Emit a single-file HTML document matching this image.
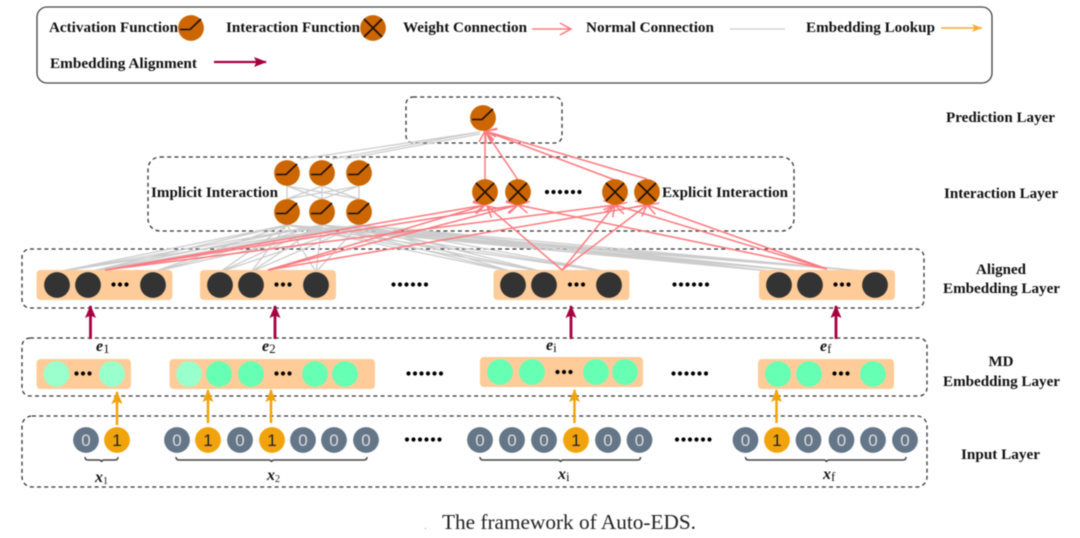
<!DOCTYPE html>
<html lang="en">
<head>
<meta charset="utf-8">
<title>The framework of Auto-EDS</title>
<style>
html,body{margin:0;padding:0;background:#fff;width:1080px;height:538px;overflow:hidden}
svg{display:block;filter:blur(.45px)}
text{font-family:"Liberation Serif",serif;font-weight:bold;font-size:15px;fill:#111}
.n{font-family:"Liberation Sans",sans-serif;font-weight:normal;font-size:17px;text-anchor:middle}
.m{text-anchor:middle}
.box{fill:none;stroke:#333;stroke-width:1.3;stroke-dasharray:4 3.2}
.grp{fill:#ffcc99}
.gray{fill:none;stroke:#ccc;stroke-width:1.3}
.pink{fill:none;stroke:#ff7a80;stroke-width:1.5;marker-end:url(#op)}
.d6,.d3{fill:none;stroke:#000;stroke-width:4.2;stroke-linecap:round;stroke-dasharray:0 6.5}
.br{fill:none;stroke:#444;stroke-width:1.5}
.i{font-style:italic;font-size:16px}
.s{font-weight:normal;font-style:normal;font-size:13px}
.t{font-weight:normal;font-style:normal;font-size:10px}
</style>
</head>
<body>
<svg xmlns="http://www.w3.org/2000/svg" width="1080" height="538" viewBox="0 0 1080 538">
<defs>
<marker id="op" markerUnits="userSpaceOnUse" markerWidth="14" markerHeight="16" refX="12" refY="8" orient="auto"><path d="M1 2L12 8L1 14" fill="none" stroke="#ff7a80" stroke-width="1.5"/></marker>
<marker id="cr" markerUnits="userSpaceOnUse" markerWidth="14" markerHeight="14" refX="12" refY="6" orient="auto"><path d="M0 0.500L13 6L0 11.500L2.500 6Z" fill="#a50040"/></marker>
<marker id="crl" markerUnits="userSpaceOnUse" markerWidth="14" markerHeight="14" refX="12" refY="6" orient="auto"><path d="M0 1L13 6L0 11L2.500 6Z" fill="#a50040"/></marker>
<marker id="og" markerUnits="userSpaceOnUse" markerWidth="14" markerHeight="14" refX="12" refY="6" orient="auto"><path d="M0 0.500L13 6L0 11.500L2.500 6Z" fill="#f0a30a"/></marker>
<marker id="ogs" markerUnits="userSpaceOnUse" markerWidth="12" markerHeight="12" refX="10" refY="5" orient="auto"><path d="M0 1L10 5L0 9L2.500 5Z" fill="#f5ad2e"/></marker>
<g id="act"><circle r="12.9" fill="#cc6600"/><path d="M-11 1.500H-1L10-9" fill="none" stroke="#1c0e00" stroke-width="1.6"/></g>
<g id="xf"><circle r="12.9" fill="#cc6600"/><path d="M-9-9L9 9M9-9L-9 9" fill="none" stroke="#1c0e00" stroke-width="1.6"/></g>
<circle id="dk" r="12.900" fill="#333"/>
<circle id="gl" r="12.900" fill="#66ffb3"/>
<circle id="lg" r="12.900" fill="#99ffcc"/>
<g id="z"><circle r="12.900" fill="#647687"/><text class="n" y="6" style="fill:#ddd">0</text></g>
<g id="o"><circle r="12.900" fill="#f0a30a"/><text class="n" y="6" style="fill:#222">1</text></g>
</defs>

<!-- legend -->
<rect x="37" y="7" width="955" height="76" rx="10" fill="none" stroke="#444" stroke-width="1.3"/>
<text x="49" y="32" textLength="129" lengthAdjust="spacingAndGlyphs">Activation Function</text>
<use href="#act" x="191" y="28"/>
<text x="226" y="32" textLength="134" lengthAdjust="spacingAndGlyphs">Interaction Function</text>
<use href="#xf" x="373" y="28"/>
<text x="403" y="32" textLength="124" lengthAdjust="spacingAndGlyphs">Weight Connection</text>
<line x1="532" y1="29" x2="571" y2="29" class="pink"/>
<text x="586" y="32" textLength="128" lengthAdjust="spacingAndGlyphs">Normal Connection</text>
<line x1="730" y1="29" x2="785" y2="29" class="gray"/>
<text x="806" y="32" textLength="129" lengthAdjust="spacingAndGlyphs">Embedding Lookup</text>
<line x1="941" y1="28" x2="982" y2="28" stroke="#f5ad2e" stroke-width="1.6" marker-end="url(#ogs)"/>
<text x="50" y="68" textLength="147" lengthAdjust="spacingAndGlyphs">Embedding Alignment</text>
<line x1="214" y1="62" x2="266" y2="62" stroke="#a50040" stroke-width="2.200" marker-end="url(#crl)"/>

<!-- layer boxes -->
<rect class="box" x="406" y="97" width="156" height="46" rx="7"/>
<rect class="box" x="148" y="157" width="646" height="74" rx="12"/>
<rect class="box" x="22" y="249" width="902" height="59" rx="8"/>
<rect class="box" x="22" y="338" width="905" height="58" rx="8"/>
<rect class="box" x="22" y="416" width="905" height="71" rx="10"/>

<!-- gray connections -->
<path class="gray" d="M480 132L300 159M480 132L332 159M480 134L345 159"/>
<path class="gray" d="M287 186V199M322 186V199M359 186V199M287 186L322 199M287 186L359 199M322 186L287 199M322 186L359 199M359 186L287 199M359 186L322 199"/>
<path class="gray" d="M287 225L57 272M287 225L88 272M287 225L153 272M287 225L220 272M287 225L251 272M287 225L316 272M287 225L513 272M287 225L544 272M287 225L609 272M287 225L779 272M287 225L810 272M287 225L875 272M322 225L57 272M322 225L88 272M322 225L153 272M322 225L220 272M322 225L251 272M322 225L316 272M322 225L513 272M322 225L544 272M322 225L609 272M322 225L779 272M322 225L810 272M322 225L875 272M359 225L57 272M359 225L88 272M359 225L153 272M359 225L220 272M359 225L251 272M359 225L316 272M359 225L513 272M359 225L544 272M359 225L609 272M359 225L779 272M359 225L810 272M359 225L875 272"/>

<!-- aligned groups -->
<rect class="grp" x="36.500" y="270" width="136" height="30" rx="4"/>
<rect class="grp" x="200" y="270" width="136" height="30" rx="4"/>
<rect class="grp" x="493.500" y="270" width="136" height="30" rx="4"/>
<rect class="grp" x="759" y="270" width="136" height="30" rx="4"/>

<!-- pink connections -->
<line class="pink" x1="105" y1="270" x2="485" y2="205"/>
<line class="pink" x1="105" y1="270" x2="518" y2="205"/>
<line class="pink" x1="105" y1="270" x2="615" y2="205"/>
<line class="pink" x1="268" y1="270" x2="485" y2="205"/>
<line class="pink" x1="268" y1="270" x2="518" y2="205"/>
<line class="pink" x1="268" y1="270" x2="647" y2="205"/>
<line class="pink" x1="562" y1="270" x2="487" y2="206"/>
<line class="pink" x1="562" y1="270" x2="615" y2="205"/>
<line class="pink" x1="562" y1="270" x2="647" y2="205"/>
<line class="pink" x1="827" y1="269" x2="518" y2="205"/>
<line class="pink" x1="827" y1="269" x2="615" y2="205"/>
<line class="pink" x1="827" y1="269" x2="647" y2="205"/>
<line class="pink" x1="485" y1="180" x2="485" y2="131"/>
<line class="pink" x1="518" y1="180" x2="485" y2="131"/>
<line class="pink" x1="615" y1="180" x2="485" y2="131"/>
<line class="pink" x1="647" y1="179" x2="485" y2="131"/>

<!-- prediction and interaction nodes -->
<use href="#act" x="483" y="118"/>
<use href="#act" x="287" y="173"/><use href="#act" x="322" y="173"/><use href="#act" x="359" y="173"/>
<use href="#act" x="287" y="212"/><use href="#act" x="322" y="212"/><use href="#act" x="359" y="212"/>
<use href="#xf" x="485" y="192"/><use href="#xf" x="518" y="192"/><use href="#xf" x="615" y="192"/><use href="#xf" x="647" y="192"/>
<text x="151" y="197" textLength="127" lengthAdjust="spacingAndGlyphs">Implicit Interaction</text>
<text x="662" y="197" textLength="126" lengthAdjust="spacingAndGlyphs">Explicit Interaction</text>
<line class="d6" x1="547" y1="192" x2="581" y2="192"/>

<!-- aligned nodes -->
<use href="#dk" x="57" y="285"/><use href="#dk" x="88" y="285"/><use href="#dk" x="153" y="285"/>
<use href="#dk" x="220" y="285"/><use href="#dk" x="251" y="285"/><use href="#dk" x="316" y="285"/>
<use href="#dk" x="513" y="285"/><use href="#dk" x="544" y="285"/><use href="#dk" x="609" y="285"/>
<use href="#dk" x="779" y="285"/><use href="#dk" x="810" y="285"/><use href="#dk" x="875" y="285"/>
<line class="d3" x1="113.500" y1="284.500" x2="127" y2="284.500"/>
<line class="d3" x1="276.500" y1="284.500" x2="290" y2="284.500"/>
<line class="d3" x1="570" y1="284.500" x2="583.500" y2="284.500"/>
<line class="d3" x1="835.500" y1="284.500" x2="849" y2="284.500"/>
<line class="d6" x1="393.500" y1="284.500" x2="427" y2="284.500"/>
<line class="d6" x1="674.500" y1="284.500" x2="708" y2="284.500"/>

<!-- alignment arrows -->
<line x1="90.500" y1="339" x2="90.500" y2="306" stroke="#a50040" stroke-width="2.800" marker-end="url(#cr)"/>
<line x1="275" y1="339" x2="275" y2="306" stroke="#a50040" stroke-width="2.800" marker-end="url(#cr)"/>
<line x1="571" y1="339" x2="571" y2="306" stroke="#a50040" stroke-width="2.800" marker-end="url(#cr)"/>
<line x1="836" y1="339" x2="836" y2="306" stroke="#a50040" stroke-width="2.800" marker-end="url(#cr)"/>
<text x="96" y="351" class="i">e<tspan class="s" dy="2">1</tspan></text>
<text x="262" y="351" class="i">e<tspan class="s" dy="2">2</tspan></text>
<text x="546" y="350" class="i">e<tspan class="s" dy="2">i</tspan></text>
<text x="820" y="351" class="i">e<tspan class="s" dy="2">f</tspan></text>

<!-- MD groups -->
<rect class="grp" x="36.500" y="359" width="94.500" height="30" rx="4"/>
<rect class="grp" x="169.500" y="359" width="205.500" height="30" rx="4"/>
<rect class="grp" x="480" y="357" width="163" height="30" rx="4"/>
<rect class="grp" x="758" y="359" width="136" height="30" rx="4"/>
<use href="#lg" x="56.500" y="374"/><use href="#lg" x="112" y="374"/>
<use href="#lg" x="189" y="374"/><use href="#gl" x="219" y="374"/><use href="#gl" x="251" y="374"/><use href="#gl" x="315" y="374"/><use href="#gl" x="345" y="374"/>
<use href="#gl" x="500" y="372"/><use href="#gl" x="532" y="372"/><use href="#gl" x="596" y="372"/><use href="#gl" x="625" y="372"/>
<use href="#gl" x="778" y="374"/><use href="#gl" x="809" y="374"/><use href="#gl" x="873" y="374"/>
<line class="d3" x1="76.500" y1="373.500" x2="90" y2="373.500"/>
<line class="d3" x1="276.500" y1="373.500" x2="290" y2="373.500"/>
<line class="d3" x1="557.500" y1="372" x2="571" y2="372"/>
<line class="d3" x1="834.500" y1="373.500" x2="848" y2="373.500"/>
<line class="d6" x1="408.500" y1="373.500" x2="442" y2="373.500"/>
<line class="d6" x1="673.500" y1="373.500" x2="707" y2="373.500"/>

<!-- lookup arrows -->
<line x1="117" y1="425" x2="117" y2="392" stroke="#f0a30a" stroke-width="2.500" marker-end="url(#og)"/>
<line x1="208" y1="423" x2="208" y2="390" stroke="#f0a30a" stroke-width="2.500" marker-end="url(#og)"/>
<line x1="271" y1="423" x2="271" y2="390" stroke="#f0a30a" stroke-width="2.500" marker-end="url(#og)"/>
<line x1="574.500" y1="423" x2="574.500" y2="390" stroke="#f0a30a" stroke-width="2.500" marker-end="url(#og)"/>
<line x1="776.500" y1="423" x2="776.500" y2="390" stroke="#f0a30a" stroke-width="2.500" marker-end="url(#og)"/>

<!-- input nodes -->
<use href="#z" x="86" y="440"/><use href="#o" x="117" y="440"/>
<use href="#z" x="177" y="440"/><use href="#o" x="208" y="440"/><use href="#z" x="240" y="440"/><use href="#o" x="272" y="440"/><use href="#z" x="303" y="440"/><use href="#z" x="334" y="440"/><use href="#z" x="366" y="440"/>
<use href="#z" x="480" y="440"/><use href="#z" x="512" y="440"/><use href="#z" x="544" y="440"/><use href="#o" x="576" y="440"/><use href="#z" x="608" y="440"/><use href="#z" x="639.500" y="440"/>
<use href="#z" x="745.500" y="440"/><use href="#o" x="777" y="440"/><use href="#z" x="808.500" y="440"/><use href="#z" x="841.500" y="440"/><use href="#z" x="873" y="440"/><use href="#z" x="905" y="440"/>
<line class="d6" x1="407" y1="439.500" x2="440.500" y2="439.500"/>
<line class="d6" x1="677" y1="439.500" x2="710.500" y2="439.500"/>

<!-- braces -->
<path class="br" d="M85 457Q85 460 88 460H99Q101 460 101.500 462Q102 460 104 460H115Q118 460 118 457"/>
<path class="br" d="M176 457Q176 460 179 460H269Q271 460 271.500 462Q272 460 274 460H364Q367 460 367 457"/>
<path class="br" d="M480 457Q480 460 483 460H558Q560 460 560.500 462Q561 460 563 460H638Q640.500 460 640.500 457"/>
<path class="br" d="M745.500 457Q745.500 460 748.500 460H824Q826 460 826.500 462Q827 460 829 460H903Q906 460 906 457"/>
<text x="95" y="482" class="i">x<tspan class="t" dy="2">1</tspan></text>
<text x="267" y="480" class="i">x<tspan class="t" dy="2">2</tspan></text>
<text x="558" y="479" class="i">x<tspan class="s" dy="2">i</tspan></text>
<text x="823" y="479" class="i">x<tspan class="s" dy="2">f</tspan></text>

<!-- right labels -->
<text x="946" y="122" textLength="109" lengthAdjust="spacingAndGlyphs">Prediction Layer</text>
<text x="944" y="198" textLength="114" lengthAdjust="spacingAndGlyphs">Interaction Layer</text>
<text x="1001" y="274" class="m">Aligned</text>
<text x="943" y="293" textLength="117" lengthAdjust="spacingAndGlyphs">Embedding Layer</text>
<text x="1001" y="366" class="m">MD</text>
<text x="943" y="386" textLength="117" lengthAdjust="spacingAndGlyphs">Embedding Layer</text>
<text x="961" y="459" textLength="79" lengthAdjust="spacingAndGlyphs">Input Layer</text>

<text x="442" y="529" textLength="254" lengthAdjust="spacingAndGlyphs" style="font-weight:normal;font-size:21px;fill:#222">The framework of Auto-EDS.</text>
<rect x="425" y="528" width="1" height="1" fill="#999"/>
</svg>
</body>
</html>
